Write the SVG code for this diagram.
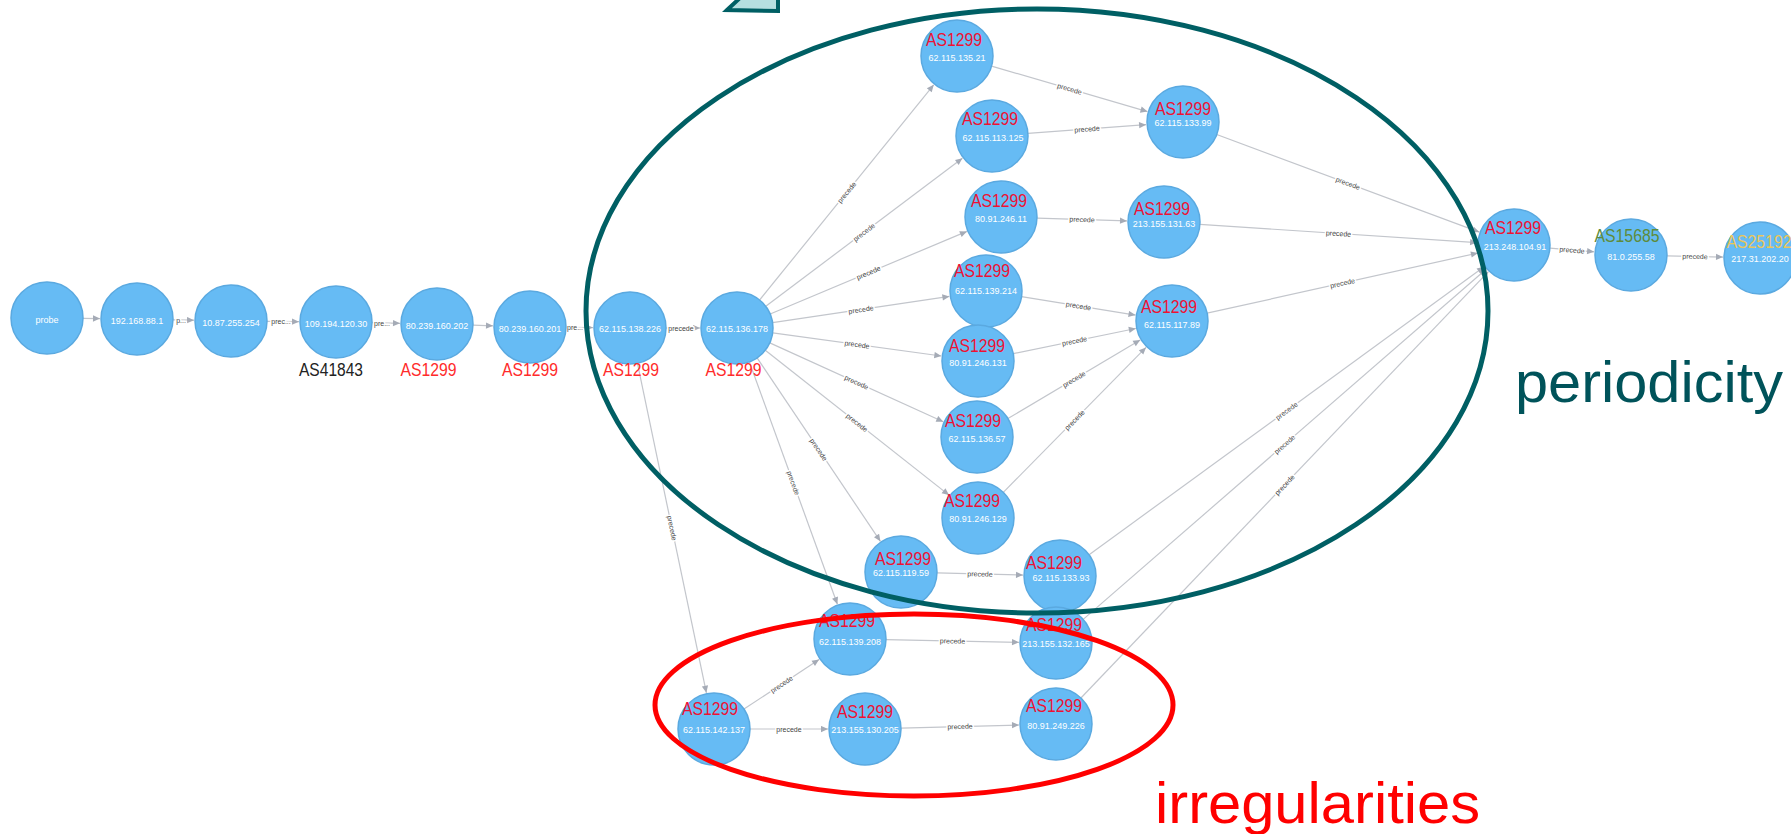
<svg xmlns="http://www.w3.org/2000/svg" width="1791" height="834" viewBox="0 0 1791 834">
<style>
.n circle{fill:#66bbf4;stroke:#5aa9e0;stroke-width:1.5}
.ip{font-family:"Liberation Sans",Arial,sans-serif;font-size:9px;fill:#ffffff;text-anchor:middle}
.as{font-family:"Liberation Sans",Arial,sans-serif;font-size:17.5px;fill:#ee1133;text-anchor:middle}
.asb{font-family:"Liberation Sans",Arial,sans-serif;font-size:17.5px;fill:#ff2b2b;text-anchor:middle}
.e line{stroke:#c3c6cc;stroke-width:1.2;marker-end:url(#arr)}
.el{font-family:"Liberation Sans",Arial,sans-serif;font-size:7px;fill:#444;text-anchor:middle;dominant-baseline:central;stroke:#ffffff;stroke-width:3;paint-order:stroke}
.big{font-family:"Liberation Sans",Arial,sans-serif;font-size:58px}
</style>
<defs>
<marker id="arr" viewBox="0 0 10 10" refX="10" refY="5" markerWidth="8" markerHeight="7" markerUnits="userSpaceOnUse" orient="auto">
<path d="M0,0.5 L10,5 L0,9.5 z" fill="#a5abb6"/>
</marker>
</defs>
<rect width="1791" height="834" fill="#ffffff"/>

<g id="connectors" class="e">
<g><line x1="83" y1="318.4" x2="100" y2="318.6"/></g>
<g><line x1="173" y1="319.8" x2="194" y2="320.2"/><text class="el" x="181" y="320">p...</text></g>
<g><line x1="267" y1="321.3" x2="299" y2="321.7"/><text class="el" x="281" y="321.5">prec...</text></g>
<g><line x1="372" y1="322.7" x2="400" y2="323.3"/><text class="el" x="382" y="323">pre...</text></g>
<g><line x1="473" y1="325.2" x2="493" y2="325.8"/></g>
<g><line x1="566" y1="327.4" x2="593" y2="327.6"/><text class="el" x="575" y="327.5">pre...</text></g>
<g><line x1="666" y1="328" x2="700" y2="328"/><text class="el" x="681" y="328">precede</text></g>
<g><line x1="637.4" y1="363.2" x2="706.4" y2="692.8"/><text class="el" transform="translate(672,528) rotate(78.2)">precede</text></g>
<g><line x1="759.6" y1="300" x2="933.7" y2="84.8"/><text class="el" transform="translate(846.7,192.4) rotate(-51)">precede</text></g>
<g><line x1="765.8" y1="306.3" x2="962.4" y2="158.3"/><text class="el" transform="translate(864,232.3) rotate(-37)">precede</text></g>
<g><line x1="770.2" y1="314" x2="966.9" y2="231.4"/><text class="el" transform="translate(868.5,272.7) rotate(-22.8)">precede</text></g>
<g><line x1="772.6" y1="322.7" x2="949.4" y2="296.4"/><text class="el" transform="translate(861,309.6) rotate(-8.45)">precede</text></g>
<g><line x1="772.7" y1="332.9" x2="941.3" y2="356"/><text class="el" transform="translate(857,344.5) rotate(7.8)">precede</text></g>
<g><line x1="769.8" y1="342.9" x2="943.3" y2="421.7"/><text class="el" transform="translate(856.6,382.3) rotate(24.4)">precede</text></g>
<g><line x1="765.3" y1="350.3" x2="949" y2="495.1"/><text class="el" transform="translate(857,422.7) rotate(38.25)">precede</text></g>
<g><line x1="757.1" y1="357.9" x2="880.4" y2="541.3"/><text class="el" transform="translate(818.7,449.6) rotate(56.1)">precede</text></g>
<g><line x1="749.3" y1="361.8" x2="837.4" y2="604.2"/><text class="el" transform="translate(793.3,483) rotate(70)">precede</text></g>
<g><line x1="991.6" y1="66.1" x2="1147.5" y2="111.6"/><text class="el" transform="translate(1069.5,88.9) rotate(16.3)">precede</text></g>
<g><line x1="1027.9" y1="133.4" x2="1146.1" y2="124.7"/><text class="el" transform="translate(1087,129) rotate(-4.2)">precede</text></g>
<g><line x1="1037" y1="218.1" x2="1127" y2="220.9"/><text class="el" transform="translate(1082,219.5) rotate(1.76)">precede</text></g>
<g><line x1="1021.5" y1="296.7" x2="1135.5" y2="315.1"/><text class="el" transform="translate(1078.5,305.9) rotate(9.2)">precede</text></g>
<g><line x1="1013.3" y1="353.7" x2="1135.8" y2="328.5"/><text class="el" transform="translate(1074.5,341.1) rotate(-11.65)">precede</text></g>
<g><line x1="1007.9" y1="418.6" x2="1140.2" y2="339.9"/><text class="el" transform="translate(1074,379.3) rotate(-30.75)">precede</text></g>
<g><line x1="1003.3" y1="492.4" x2="1146" y2="347.4"/><text class="el" transform="translate(1074.6,419.9) rotate(-45.45)">precede</text></g>
<g><line x1="1216.7" y1="134.5" x2="1479.3" y2="232.1"/><text class="el" transform="translate(1348,183.3) rotate(20.4)">precede</text></g>
<g><line x1="1199.9" y1="224.4" x2="1477.1" y2="242.6"/><text class="el" transform="translate(1338.5,233.5) rotate(3.76)">precede</text></g>
<g><line x1="1207.1" y1="313.2" x2="1477.9" y2="253"/><text class="el" transform="translate(1342.5,283.1) rotate(-12.5)">precede</text></g>
<g><line x1="937" y1="572.9" x2="1023" y2="575.1"/><text class="el" transform="translate(980,574) rotate(1.44)">precede</text></g>
<g><line x1="1089.1" y1="554.8" x2="1484.1" y2="266.8"/><text class="el" transform="translate(1286.6,410.8) rotate(-36.1)">precede</text></g>
<g><line x1="1083.2" y1="619.4" x2="1486.1" y2="269.3"/><text class="el" transform="translate(1284.6,444.4) rotate(-41)">precede</text></g>
<g><line x1="1080.9" y1="698" x2="1488.4" y2="271.7"/><text class="el" transform="translate(1284.6,484.9) rotate(-46.3)">precede</text></g>
<g><line x1="886" y1="639.7" x2="1019" y2="642.3"/><text class="el" transform="translate(952.5,641) rotate(1.1)">precede</text></g>
<g><line x1="744" y1="709.1" x2="819.1" y2="659.4"/><text class="el" transform="translate(781.6,684.3) rotate(-33.5)">precede</text></g>
<g><line x1="750" y1="729" x2="828" y2="729"/><text class="el" x="789" y="729">precede</text></g>
<g><line x1="901" y1="728.1" x2="1019" y2="725"/><text class="el" transform="translate(960,726.5) rotate(-1.5)">precede</text></g>
<g><line x1="1549.9" y1="248.1" x2="1594.1" y2="251.8"/><text class="el" transform="translate(1572,250) rotate(4.9)">precede</text></g>
<g><line x1="1667" y1="255.8" x2="1723" y2="257.1"/><text class="el" transform="translate(1695,256.5) rotate(1.3)">precede</text></g>
</g>

<g id="nodes">
<g id="n-probe" class="n"><circle cx="47" cy="318" r="36"/><text class="ip" x="47" y="323">probe</text></g>
<g id="n-192-168-88-1" class="n"><circle cx="137" cy="319" r="36"/><text class="ip" x="137" y="324">192.168.88.1</text></g>
<g id="n-10-87-255-254" class="n"><circle cx="231" cy="321" r="36"/><text class="ip" x="231" y="326">10.87.255.254</text></g>
<g id="n-109-194-120-30" class="n"><circle cx="336" cy="322" r="36"/><text class="ip" x="336" y="327">109.194.120.30</text><text class="asb" x="331" y="376" textLength="64" lengthAdjust="spacingAndGlyphs" style="fill:#222222">AS41843</text></g>
<g id="n-80-239-160-202" class="n"><circle cx="437" cy="324" r="36"/><text class="ip" x="437" y="329">80.239.160.202</text><text class="asb" x="428.5" y="376" textLength="56" lengthAdjust="spacingAndGlyphs">AS1299</text></g>
<g id="n-80-239-160-201" class="n"><circle cx="530" cy="327" r="36"/><text class="ip" x="530" y="332">80.239.160.201</text><text class="asb" x="530" y="376" textLength="56" lengthAdjust="spacingAndGlyphs">AS1299</text></g>
<g id="n-62-115-138-226" class="n"><circle cx="630" cy="328" r="36"/><text class="ip" x="630" y="332">62.115.138.226</text><text class="asb" x="631" y="376" textLength="56" lengthAdjust="spacingAndGlyphs">AS1299</text></g>
<g id="n-62-115-136-178" class="n"><circle cx="737" cy="328" r="36"/><text class="ip" x="737" y="332">62.115.136.178</text><text class="asb" x="733.5" y="376" textLength="56" lengthAdjust="spacingAndGlyphs">AS1299</text></g>

<g id="n-62-115-135-21" class="n"><circle cx="957" cy="56" r="36"/><text class="as" x="954" y="46" textLength="56" lengthAdjust="spacingAndGlyphs">AS1299</text><text class="ip" x="957" y="61">62.115.135.21</text></g>
<g id="n-62-115-113-125" class="n"><circle cx="992" cy="136" r="36"/><text class="as" x="990" y="125" textLength="56" lengthAdjust="spacingAndGlyphs">AS1299</text><text class="ip" x="993" y="141">62.115.113.125</text></g>
<g id="n-80-91-246-11" class="n"><circle cx="1001" cy="217" r="36"/><text class="as" x="999" y="207" textLength="56" lengthAdjust="spacingAndGlyphs">AS1299</text><text class="ip" x="1001" y="222">80.91.246.11</text></g>
<g id="n-62-115-139-214" class="n"><circle cx="986" cy="291" r="36"/><text class="as" x="982" y="277" textLength="56" lengthAdjust="spacingAndGlyphs">AS1299</text><text class="ip" x="986" y="294">62.115.139.214</text></g>
<g id="n-80-91-246-131" class="n"><circle cx="978" cy="361" r="36"/><text class="as" x="977" y="352" textLength="56" lengthAdjust="spacingAndGlyphs">AS1299</text><text class="ip" x="978" y="366">80.91.246.131</text></g>
<g id="n-62-115-136-57" class="n"><circle cx="977" cy="437" r="36"/><text class="as" x="973" y="427" textLength="56" lengthAdjust="spacingAndGlyphs">AS1299</text><text class="ip" x="977" y="442">62.115.136.57</text></g>
<g id="n-80-91-246-129" class="n"><circle cx="978" cy="518" r="36"/><text class="as" x="972" y="507" textLength="56" lengthAdjust="spacingAndGlyphs">AS1299</text><text class="ip" x="978" y="522">80.91.246.129</text></g>
<g id="n-62-115-119-59" class="n"><circle cx="901" cy="572" r="36"/><text class="as" x="903" y="565" textLength="56" lengthAdjust="spacingAndGlyphs">AS1299</text><text class="ip" x="901" y="576">62.115.119.59</text></g>
<g id="n-62-115-133-93" class="n"><circle cx="1060" cy="576" r="36"/><text class="as" x="1054" y="569" textLength="56" lengthAdjust="spacingAndGlyphs">AS1299</text><text class="ip" x="1061" y="581">62.115.133.93</text></g>
<g id="n-62-115-133-99" class="n"><circle cx="1183" cy="122" r="36"/><text class="as" x="1183" y="115" textLength="56" lengthAdjust="spacingAndGlyphs">AS1299</text><text class="ip" x="1183" y="126">62.115.133.99</text></g>
<g id="n-213-155-131-63" class="n"><circle cx="1164" cy="222" r="36"/><text class="as" x="1162" y="215" textLength="56" lengthAdjust="spacingAndGlyphs">AS1299</text><text class="ip" x="1164" y="227">213.155.131.63</text></g>
<g id="n-62-115-117-89" class="n"><circle cx="1172" cy="321" r="36"/><text class="as" x="1169" y="313" textLength="56" lengthAdjust="spacingAndGlyphs">AS1299</text><text class="ip" x="1172" y="328">62.115.117.89</text></g>
<g id="n-213-248-104-91" class="n"><circle cx="1514" cy="245" r="36"/><text class="as" x="1513" y="234" textLength="56" lengthAdjust="spacingAndGlyphs">AS1299</text><text class="ip" x="1515" y="250">213.248.104.91</text></g>
<g id="n-81-0-255-58" class="n"><circle cx="1631" cy="255" r="36"/><text class="as" x="1627" y="242" textLength="65" lengthAdjust="spacingAndGlyphs" style="fill:#5e8b3a">AS15685</text><text class="ip" x="1631" y="260">81.0.255.58</text></g>
<g id="n-217-31-202-20" class="n"><circle cx="1760" cy="258" r="36"/><text class="as" x="1759" y="248" textLength="65" lengthAdjust="spacingAndGlyphs" style="fill:#ebc65a">AS25192</text><text class="ip" x="1760" y="262">217.31.202.20</text></g>
<g id="n-62-115-139-208" class="n"><circle cx="850" cy="639" r="36"/><text class="as" x="847" y="627" textLength="56" lengthAdjust="spacingAndGlyphs">AS1299</text><text class="ip" x="850" y="645">62.115.139.208</text></g>
<g id="n-213-155-132-165" class="n"><circle cx="1056" cy="643" r="36"/><text class="as" x="1054" y="631" textLength="56" lengthAdjust="spacingAndGlyphs">AS1299</text><text class="ip" x="1056" y="647">213.155.132.165</text></g>
<g id="n-62-115-142-137" class="n"><circle cx="714" cy="729" r="36"/><text class="as" x="710" y="715" textLength="56" lengthAdjust="spacingAndGlyphs">AS1299</text><text class="ip" x="714" y="733">62.115.142.137</text></g>
<g id="n-213-155-130-205" class="n"><circle cx="865" cy="729" r="36"/><text class="as" x="865" y="718" textLength="56" lengthAdjust="spacingAndGlyphs">AS1299</text><text class="ip" x="865" y="733">213.155.130.205</text></g>
<g id="n-80-91-249-226" class="n"><circle cx="1056" cy="724" r="36"/><text class="as" x="1054" y="712" textLength="56" lengthAdjust="spacingAndGlyphs">AS1299</text><text class="ip" x="1056" y="729">80.91.249.226</text></g>
</g>

<g id="annotations">
<polygon points="727,10 741,-3 778,-3 778,11" fill="#b6dfe0" stroke="#005f64" stroke-width="4" stroke-linejoin="miter"/>
<ellipse cx="1037" cy="311" rx="451" ry="302" fill="none" stroke="#005f64" stroke-width="5"/>
<ellipse cx="914" cy="705" rx="259" ry="91" fill="none" stroke="#ff0000" stroke-width="5"/>
<text class="big" x="1515" y="402" textLength="268" lengthAdjust="spacingAndGlyphs" fill="#00535a">periodicity</text>
<text class="big" x="1155" y="823" textLength="325" lengthAdjust="spacingAndGlyphs" fill="#ff0000">irregularities</text>
</g>
</svg>
